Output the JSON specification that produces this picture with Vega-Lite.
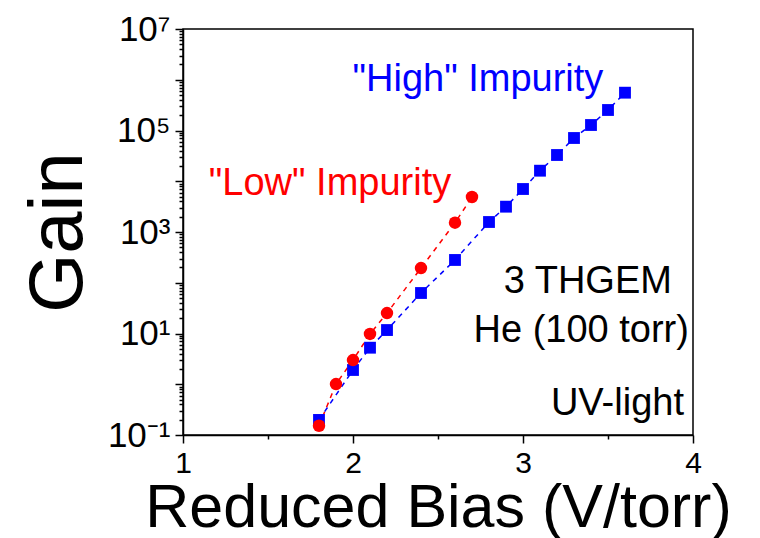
{
  "$schema": "https://vega.github.io/schema/vega-lite/v6.json",
  "width": 510,
  "height": 406,
  "autosize": "none",
  "padding": {"left": 183, "top": 29, "right": 67, "bottom": 103},
  "background": "white",
  "config": {
    "view": {"stroke": "black", "strokeWidth": 1.5},
    "font": "Liberation Sans",
    "axis": {"grid": false, "domainColor": "black", "domainWidth": 1.5, "tickColor": "black", "tickWidth": 1.5, "labelColor": "black", "titleColor": "black", "labelFont": "Liberation Sans", "titleFont": "Liberation Sans", "titleFontWeight": "normal", "labelFlush": false, "labelOverlap": false, "labelBound": false}
  },
  "datasets": {
    "gain": [
      {"series": "High", "bias": 1.8, "gain": 0.198},
      {"series": "High", "bias": 2.0, "gain": 1.91},
      {"series": "High", "bias": 2.1, "gain": 5.25},
      {"series": "High", "bias": 2.2, "gain": 11.7},
      {"series": "High", "bias": 2.4, "gain": 62.8},
      {"series": "High", "bias": 2.6, "gain": 281},
      {"series": "High", "bias": 2.8, "gain": 1574},
      {"series": "High", "bias": 2.9, "gain": 3154},
      {"series": "High", "bias": 3.0, "gain": 7034},
      {"series": "High", "bias": 3.1, "gain": 16140},
      {"series": "High", "bias": 3.2, "gain": 32900},
      {"series": "High", "bias": 3.3, "gain": 71150},
      {"series": "High", "bias": 3.4, "gain": 128300},
      {"series": "High", "bias": 3.5, "gain": 253500},
      {"series": "High", "bias": 3.6, "gain": 555900},
      {"series": "Low", "bias": 1.8, "gain": 0.152},
      {"series": "Low", "bias": 1.9, "gain": 1.01},
      {"series": "Low", "bias": 2.0, "gain": 3.0},
      {"series": "Low", "bias": 2.1, "gain": 9.8},
      {"series": "Low", "bias": 2.2, "gain": 25.3},
      {"series": "Low", "bias": 2.4, "gain": 195},
      {"series": "Low", "bias": 2.6, "gain": 1525},
      {"series": "Low", "bias": 2.7, "gain": 4894}
    ],
    "labels": [
      {"series": "High", "text": "\"High\" Impurity", "bias": 2.735, "gain": 608000},
      {"series": "Low", "text": "\"Low\" Impurity", "bias": 1.865, "gain": 5360}
    ],
    "notes": [
      {"text": "3 THGEM", "bias": 3.876, "gain": 63.7},
      {"text": "He (100 torr)", "bias": 3.976, "gain": 6.89},
      {"text": "UV-light", "bias": 3.947, "gain": 0.248}
    ]
  },
  "encoding": {
    "x": {
      "field": "bias", "type": "quantitative",
      "scale": {"domain": [1, 4], "nice": false, "zero": false},
      "axis": {
        "title": "Reduced Bias (V/torr)",
        "values": [1, 1.5, 2, 2.5, 3, 3.5, 4],
        "labelExpr": "datum.value % 1 == 0 ? format(datum.value, 'd') : ''",
        "tickSize": {"condition": {"test": "datum.value % 1 == 0", "value": 8}, "value": 4},
        "labelFontSize": 30, "labelPadding": 5,
        "titleFontSize": 61, "titleX": 255, "titleY": 91, "titleBaseline": "alphabetic", "titleAlign": "center"
      }
    },
    "y": {
      "field": "gain", "type": "quantitative",
      "scale": {"type": "log", "domain": [0.1, 10000000], "nice": false},
      "axis": {
        "title": "Gain",
        "values": [0.1,0.2,0.3,0.4,0.5,0.6,0.7,0.8,0.9,1,2,3,4,5,6,7,8,9,10,20,30,40,50,60,70,80,90,100,200,300,400,500,600,700,800,900,1000,2000,3000,4000,5000,6000,7000,8000,9000,10000,20000,30000,40000,50000,60000,70000,80000,90000,100000,200000,300000,400000,500000,600000,700000,800000,900000,1000000,2000000,3000000,4000000,5000000,6000000,7000000,8000000,9000000,10000000],
        "labelExpr": "datum.value == 0.1 ? '10⁻¹' : datum.value == 10 ? '10¹' : datum.value == 1000 ? '10³' : datum.value == 100000 ? '10⁵' : datum.value == 10000000 ? '10⁷' : ''",
        "tickSize": {"condition": {"test": "abs(log(datum.value)/LN10 - round(log(datum.value)/LN10)) < 0.000001", "value": 8}, "value": 4},
        "labelFontSize": 35, "labelPadding": 5,
        "titleFontSize": 76, "titleX": -102, "titleY": 203, "titleAngle": 270, "titleBaseline": "alphabetic", "titleAlign": "center"
      }
    }
  },
  "layer": [
    {
      "data": {"name": "gain"},
      "mark": {"type": "line", "strokeDash": [5, 5], "strokeWidth": 1.5},
      "encoding": {
        "color": {"field": "series", "type": "nominal", "scale": {"domain": ["High", "Low"], "range": ["#0000FF", "#FF0000"]}, "legend": null}
      }
    },
    {
      "data": {"name": "gain"},
      "mark": {"type": "point", "filled": true, "opacity": 1},
      "encoding": {
        "color": {"field": "series", "type": "nominal", "scale": {"domain": ["High", "Low"], "range": ["#0000FF", "#FF0000"]}, "legend": null},
        "shape": {"field": "series", "type": "nominal", "scale": {"domain": ["High", "Low"], "range": ["square", "circle"]}, "legend": null},
        "size": {"field": "series", "type": "nominal", "scale": {"domain": ["High", "Low"], "range": [140, 155]}, "legend": null}
      }
    },
    {
      "data": {"name": "labels"},
      "mark": {"type": "text", "align": "center", "baseline": "alphabetic", "fontSize": 38, "font": "Liberation Sans"},
      "encoding": {
        "text": {"field": "text"},
        "color": {"field": "series", "type": "nominal", "scale": {"domain": ["High", "Low"], "range": ["#0000FF", "#FF0000"]}, "legend": null}
      }
    },
    {
      "data": {"name": "notes"},
      "mark": {"type": "text", "align": "right", "baseline": "alphabetic", "fontSize": 38, "font": "Liberation Sans", "color": "black"},
      "encoding": {
        "text": {"field": "text"}
      }
    }
  ]
}
